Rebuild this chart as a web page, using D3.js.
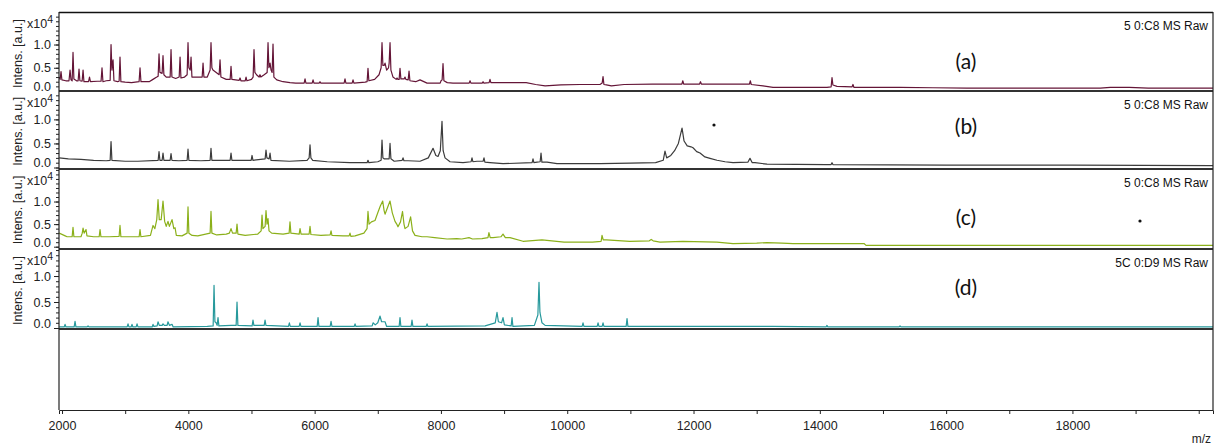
<!DOCTYPE html>
<html>
<head>
<meta charset="utf-8">
<script src="https://d3js.org/d3.v7.min.js"></script>
<style>
    html, body { margin: 0; padding: 0; background: #fff; }
    svg { display: block; font-family: "Liberation Sans", Arial, sans-serif; }
</style>
</head>
<body>
<div id="chart"></div>
<script>
(function () {
    'use strict';

    // x axis ticks (m/z)
    var xTicksMajor = [2000, 4000, 6000, 8000, 10000, 12000, 14000, 16000, 18000];
    var xTicksMinor = [3000, 5000, 7000, 9000, 11000, 13000, 15000, 17000, 19000, 20000];
    var yTicksMajor = [0, 0.5, 1.0];

    var panelTitles = ['5 0:C8 MS Raw', '5 0:C8 MS Raw', '5 0:C8 MS Raw', '5C 0:D9 MS Raw'];
    var panelTags = ['(a)', '(b)', '(c)', '(d)'];

    // spectra: [m/z, intensity x10^4]
    var spectrumA = [
        [1955, 0.30], [1970, 0.25], [1984, 0.42], [1998, 0.24], [2060, 0.22], [2110, 0.22], [2127, 0.45], [2142, 0.24],
        [2160, 0.22], [2174, 0.83], [2188, 0.26], [2230, 0.22], [2255, 0.22], [2269, 0.47], [2283, 0.22], [2318, 0.21],
        [2333, 0.45], [2347, 0.20], [2420, 0.20], [2435, 0.30], [2450, 0.20], [2560, 0.21], [2618, 0.21], [2633, 0.50],
        [2648, 0.20], [2700, 0.22], [2762, 0.23], [2776, 1.00], [2790, 0.45], [2800, 0.60], [2808, 0.67], [2822, 0.22],
        [2880, 0.20], [2904, 0.21], [2918, 0.73], [2932, 0.20], [3000, 0.19], [3100, 0.18], [3220, 0.20], [3235, 0.50],
        [3250, 0.20], [3380, 0.20], [3440, 0.25], [3500, 0.30], [3522, 0.32], [3536, 0.80], [3550, 0.40], [3585, 0.38],
        [3599, 0.76], [3613, 0.35], [3650, 0.30], [3712, 0.30], [3726, 0.89], [3740, 0.30], [3800, 0.27], [3855, 0.30],
        [3869, 0.73], [3883, 0.28], [3940, 0.30], [3981, 0.35], [3995, 1.04], [4008, 0.50], [4030, 0.45], [4043, 0.73],
        [4057, 0.30], [4150, 0.30], [4219, 0.30], [4233, 0.60], [4247, 0.30], [4300, 0.30], [4345, 0.45], [4359, 1.04],
        [4373, 0.50], [4390, 0.45], [4488, 0.35], [4502, 0.67], [4516, 0.30], [4600, 0.25], [4662, 0.25], [4676, 0.53],
        [4690, 0.25], [4805, 0.23], [4819, 0.28], [4833, 0.22], [4900, 0.22], [4914, 0.30], [4928, 0.22], [5000, 0.25],
        [5026, 0.30], [5040, 0.89], [5054, 0.40], [5080, 0.35], [5121, 0.30], [5135, 0.35], [5149, 0.30], [5200, 0.35],
        [5248, 0.40], [5262, 1.04], [5276, 0.50], [5294, 0.60], [5310, 0.45], [5327, 0.40], [5341, 1.01], [5355, 0.30],
        [5400, 0.24], [5500, 0.20], [5610, 0.18], [5700, 0.17], [5834, 0.17], [5848, 0.26], [5862, 0.17], [5961, 0.17],
        [5975, 0.24], [5989, 0.17], [6071, 0.17], [6085, 0.20], [6099, 0.17], [6300, 0.17], [6467, 0.17], [6481, 0.26],
        [6495, 0.17], [6594, 0.17], [6608, 0.24], [6622, 0.17], [6800, 0.19], [6831, 0.20], [6845, 0.49], [6859, 0.22],
        [6950, 0.25], [7020, 0.35], [7053, 0.50], [7067, 1.04], [7081, 0.55], [7100, 0.55], [7115, 0.60], [7140, 0.45],
        [7170, 0.50], [7180, 0.60], [7194, 1.04], [7208, 0.45], [7241, 0.30], [7291, 0.25], [7305, 0.28], [7319, 0.25],
        [7338, 0.25], [7352, 0.49], [7366, 0.26], [7417, 0.26], [7431, 0.30], [7445, 0.25], [7481, 0.24], [7495, 0.43],
        [7509, 0.22], [7600, 0.20], [7669, 0.24], [7780, 0.17], [7900, 0.17], [7988, 0.17], [8002, 0.22], [8019, 0.24],
        [8033, 0.59], [8047, 0.22], [8100, 0.18], [8191, 0.17], [8447, 0.17], [8461, 0.22], [8475, 0.17], [8653, 0.17],
        [8667, 0.20], [8681, 0.17], [8763, 0.18], [8777, 0.25], [8791, 0.18], [8900, 0.18], [9100, 0.18], [9350, 0.18],
        [9500, 0.14], [9650, 0.11], [9900, 0.13], [10200, 0.14], [10519, 0.14], [10553, 0.17], [10567, 0.31], [10581, 0.14],
        [10620, 0.13], [10700, 0.11], [10900, 0.14], [11350, 0.15], [11816, 0.15], [11830, 0.22], [11844, 0.15], [12096, 0.15],
        [12110, 0.20], [12124, 0.15], [12886, 0.15], [12900, 0.22], [12914, 0.14], [13100, 0.11], [13259, 0.08], [14113, 0.08],
        [14179, 0.09], [14193, 0.29], [14207, 0.13], [14272, 0.10], [14511, 0.09], [14525, 0.14], [14539, 0.08], [14636, 0.08],
        [15270, 0.08], [15790, 0.07], [16330, 0.06], [18440, 0.06], [18600, 0.08], [18900, 0.08], [19200, 0.06], [20226, 0.06]
    ];
    var spectrumB = [
        [1955, 0.20], [2100, 0.18], [2300, 0.17], [2500, 0.15], [2700, 0.14], [2762, 0.15], [2776, 0.54], [2790, 0.15],
        [3000, 0.13], [3200, 0.13], [3522, 0.15], [3536, 0.33], [3550, 0.15], [3585, 0.15], [3599, 0.30], [3613, 0.15],
        [3712, 0.15], [3726, 0.29], [3740, 0.15], [3850, 0.14], [3981, 0.15], [3995, 0.38], [4009, 0.15], [4200, 0.14],
        [4345, 0.15], [4359, 0.40], [4373, 0.15], [4662, 0.15], [4676, 0.30], [4690, 0.15], [4995, 0.15], [5009, 0.25],
        [5023, 0.15], [5216, 0.18], [5230, 0.36], [5244, 0.20], [5280, 0.18], [5294, 0.30], [5308, 0.15], [5600, 0.13],
        [5880, 0.15], [5913, 0.20], [5927, 0.47], [5941, 0.20], [5970, 0.15], [6200, 0.12], [6560, 0.10], [6831, 0.10],
        [6845, 0.15], [6859, 0.10], [7000, 0.12], [7053, 0.15], [7067, 0.57], [7081, 0.20], [7100, 0.18], [7180, 0.18],
        [7194, 0.50], [7208, 0.18], [7260, 0.13], [7386, 0.15], [7400, 0.20], [7414, 0.14], [7480, 0.14], [7669, 0.13],
        [7800, 0.20], [7875, 0.40], [7920, 0.25], [7954, 0.23], [7990, 0.35], [8017, 0.96], [8035, 0.35], [8065, 0.20],
        [8144, 0.12], [8350, 0.10], [8478, 0.12], [8492, 0.20], [8506, 0.12], [8572, 0.13], [8668, 0.13], [8682, 0.20],
        [8696, 0.11], [8777, 0.10], [8983, 0.08], [9444, 0.10], [9458, 0.18], [9472, 0.10], [9522, 0.11], [9571, 0.12],
        [9585, 0.30], [9599, 0.11], [9680, 0.11], [9838, 0.08], [10250, 0.08], [10519, 0.08], [11000, 0.09], [11400, 0.10],
        [11520, 0.15], [11548, 0.34], [11575, 0.20], [11640, 0.25], [11700, 0.35], [11760, 0.50], [11818, 0.82], [11850, 0.55],
        [11900, 0.45], [11960, 0.43], [11992, 0.41], [12050, 0.33], [12103, 0.30], [12180, 0.22], [12261, 0.19], [12372, 0.15],
        [12500, 0.12], [12625, 0.10], [12860, 0.11], [12894, 0.19], [12930, 0.10], [12974, 0.10], [13164, 0.07], [14100, 0.06],
        [14179, 0.06], [14193, 0.10], [14207, 0.06], [16000, 0.05], [18000, 0.05], [20226, 0.04]
    ];
    var spectrumC = [
        [1955, 0.30], [2050, 0.24], [2080, 0.22], [2160, 0.22], [2174, 0.43], [2188, 0.22], [2300, 0.22], [2320, 0.30],
        [2333, 0.41], [2350, 0.30], [2380, 0.38], [2395, 0.24], [2500, 0.22], [2588, 0.22], [2602, 0.38], [2616, 0.22],
        [2750, 0.22], [2904, 0.23], [2918, 0.47], [2932, 0.22], [3100, 0.22], [3221, 0.22], [3235, 0.38], [3249, 0.22],
        [3400, 0.25], [3441, 0.47], [3470, 0.40], [3500, 0.60], [3520, 1.04], [3540, 0.60], [3570, 0.60], [3599, 1.01],
        [3625, 0.56], [3650, 0.45], [3678, 0.56], [3700, 0.45], [3742, 0.60], [3770, 0.40], [3790, 0.42], [3810, 0.25],
        [3900, 0.24], [3981, 0.30], [3995, 0.88], [4009, 0.30], [4060, 0.25], [4150, 0.24], [4345, 0.30], [4359, 0.78],
        [4373, 0.30], [4450, 0.26], [4600, 0.28], [4650, 0.30], [4676, 0.40], [4700, 0.30], [4757, 0.30], [4771, 0.50],
        [4785, 0.28], [4900, 0.25], [5100, 0.28], [5153, 0.35], [5167, 0.70], [5181, 0.40], [5216, 0.45], [5230, 0.80],
        [5246, 0.50], [5262, 0.62], [5278, 0.35], [5320, 0.30], [5500, 0.28], [5596, 0.30], [5610, 0.55], [5624, 0.30],
        [5755, 0.28], [5769, 0.40], [5785, 0.28], [5913, 0.28], [5927, 0.45], [5941, 0.27], [6100, 0.25], [6246, 0.26],
        [6260, 0.35], [6274, 0.25], [6450, 0.24], [6546, 0.24], [6560, 0.30], [6574, 0.23], [6640, 0.24], [6780, 0.30],
        [6830, 0.40], [6845, 0.78], [6862, 0.50], [6900, 0.55], [6956, 0.58], [7000, 0.75], [7040, 0.90], [7078, 1.01],
        [7100, 0.80], [7115, 0.72], [7150, 0.85], [7194, 1.01], [7230, 0.75], [7273, 0.56], [7300, 0.50], [7320, 0.44],
        [7360, 0.55], [7392, 0.78], [7415, 0.50], [7431, 0.40], [7480, 0.45], [7520, 0.66], [7550, 0.35], [7590, 0.25],
        [7700, 0.22], [7780, 0.22], [7900, 0.20], [8097, 0.17], [8250, 0.18], [8330, 0.17], [8445, 0.20], [8500, 0.17],
        [8650, 0.18], [8745, 0.20], [8760, 0.31], [8780, 0.20], [8825, 0.20], [8950, 0.22], [8983, 0.28], [9020, 0.20],
        [9094, 0.20], [9300, 0.12], [9600, 0.15], [9950, 0.10], [10400, 0.10], [10537, 0.12], [10551, 0.25], [10570, 0.15],
        [10620, 0.15], [10990, 0.12], [11300, 0.13], [11330, 0.16], [11360, 0.13], [11470, 0.10], [11830, 0.12], [12370, 0.10],
        [12625, 0.07], [13000, 0.08], [13164, 0.09], [13400, 0.08], [13576, 0.07], [14000, 0.07], [14700, 0.07], [14731, 0.03],
        [20226, 0.03]
    ];
    var spectrumD = [
        [1955, 0.02], [2034, 0.02], [2048, 0.07], [2062, 0.02], [2192, 0.02], [2206, 0.13], [2220, 0.02], [2398, 0.02],
        [2412, 0.04], [2426, 0.02], [3031, 0.02], [3045, 0.08], [3059, 0.02], [3094, 0.02], [3108, 0.07], [3122, 0.02],
        [3174, 0.02], [3188, 0.08], [3202, 0.02], [3427, 0.02], [3441, 0.07], [3455, 0.03], [3506, 0.04], [3520, 0.12],
        [3540, 0.05], [3585, 0.05], [3599, 0.08], [3620, 0.05], [3664, 0.05], [3678, 0.12], [3700, 0.05], [3742, 0.07],
        [3760, 0.02], [4300, 0.03], [4393, 0.04], [4407, 0.82], [4421, 0.12], [4440, 0.10], [4456, 0.05], [4470, 0.20],
        [4484, 0.04], [4680, 0.05], [4757, 0.05], [4771, 0.50], [4785, 0.05], [5010, 0.04], [5024, 0.15], [5038, 0.05],
        [5201, 0.05], [5215, 0.15], [5229, 0.05], [5586, 0.03], [5600, 0.10], [5614, 0.03], [5755, 0.03], [5769, 0.10],
        [5783, 0.03], [6040, 0.03], [6054, 0.20], [6068, 0.03], [6246, 0.03], [6260, 0.13], [6274, 0.03], [6626, 0.03],
        [6640, 0.08], [6654, 0.03], [6911, 0.04], [6925, 0.10], [6960, 0.06], [7000, 0.10], [7036, 0.23], [7060, 0.12],
        [7115, 0.12], [7140, 0.03], [7338, 0.03], [7352, 0.20], [7366, 0.03], [7528, 0.03], [7542, 0.15], [7556, 0.03],
        [7766, 0.03], [7780, 0.08], [7794, 0.03], [8700, 0.04], [8860, 0.10], [8888, 0.30], [8910, 0.12], [8960, 0.10],
        [8983, 0.20], [9005, 0.06], [9112, 0.04], [9126, 0.20], [9140, 0.03], [9480, 0.05], [9535, 0.25], [9553, 0.88],
        [9568, 0.30], [9600, 0.10], [9650, 0.05], [10236, 0.03], [10250, 0.10], [10264, 0.03], [10474, 0.03], [10488, 0.10],
        [10502, 0.03], [10553, 0.03], [10567, 0.10], [10581, 0.03], [10933, 0.03], [10947, 0.18], [10961, 0.03], [12103, 0.03],
        [13259, 0.03], [14099, 0.02], [14113, 0.05], [14127, 0.02], [15256, 0.02], [15270, 0.04], [15284, 0.02], [20226, 0.02]
    ];

    var spectra = [spectrumA, spectrumB, spectrumC, spectrumD];
    var colors = ['#641537', '#3c3c3c', '#8bb01a', '#27999c'];

    // layout
    var width = 1219, height = 446;
    var left = 59, right = 1213, axisY = 410;
    var panels = [
        { top: 12, zero: 91, bottom: 91, max: 1.70, tagY: 69 },
        { top: 91, zero: 167.5, bottom: 169, max: 1.59, tagY: 134 },
        { top: 169, zero: 246.7, bottom: 249, max: 1.72, tagY: 225 },
        { top: 249, zero: 328, bottom: 329, max: 1.52, tagY: 295 }
    ];
    var separators = [91, 169, 249, 329];

    var svg = d3.select('#chart').append('svg')
        .attr('width', width)
        .attr('height', height);

    var x = d3.scaleLinear().domain([1952, 20226]).range([left, right]);

    var line = d3.line();

    panels.forEach(function (p, i) {
        var y = d3.scaleLinear().domain([0, p.max]).range([p.zero, p.top]);
        var g = svg.append('g').attr('class', 'panel');

        g.append('clipPath').attr('id', 'clip' + i)
            .append('rect')
            .attr('x', left).attr('y', p.top)
            .attr('width', right - left).attr('height', p.zero - p.top + 2);
        // labels on the left are cut at the panel edges, like the original
        g.append('clipPath').attr('id', 'lclip' + i)
            .append('rect')
            .attr('x', 0).attr('y', p.top)
            .attr('width', left + 1).attr('height', p.bottom - p.top);

        line.x(function (d) { return x(d[0]); })
            .y(function (d) { return y(d[1]); });

        g.append('path')
            .datum(spectra[i])
            .attr('clip-path', 'url(#clip' + i + ')')
            .attr('fill', 'none')
            .attr('stroke', colors[i])
            .attr('stroke-width', 1.2)
            .attr('stroke-linejoin', 'round')
            .attr('d', line);

        var lg = g.append('g').attr('clip-path', 'url(#lclip' + i + ')');

        // minor y ticks
        var minor = lg.append('g')
            .attr('transform', 'translate(' + left + ',0)')
            .call(d3.axisLeft(y).tickValues(d3.range(0, p.max, 0.1)).tickSize(3).tickFormat(''));
        minor.select('.domain').remove();
        minor.selectAll('line').attr('stroke', '#222');

        var major = lg.append('g')
            .attr('transform', 'translate(' + left + ',0)')
            .call(d3.axisLeft(y).tickValues(yTicksMajor).tickSize(5).tickPadding(3).tickFormat(d3.format('.1f')));
        major.select('.domain').remove();
        major.selectAll('line').attr('stroke', '#222');
        major.selectAll('text')
            .attr('font-size', 12.5)
            .attr('font-family', '"Liberation Sans", Arial, sans-serif')
            .attr('fill', '#222');
        // the 0.0 label sits on the panel edge
        major.selectAll('.tick').filter(function (d) { return d === 0; })
            .select('text').attr('dy', '-0.05em');

        // x10^4 multiplier
        var mult = lg.append('text')
            .attr('x', 27).attr('y', p.top + 16)
            .attr('font-size', 12.5)
            .attr('fill', '#222')
            .text('x10');
        mult.append('tspan').attr('dy', -5).attr('font-size', 10.5).text('4');

        lg.append('text')
            .attr('transform', 'translate(22,' + ((p.top + p.zero) / 2 + 2) + ') rotate(-90)')
            .attr('text-anchor', 'middle')
            .attr('font-size', 12.5)
            .attr('fill', '#222')
            .text('Intens. [a.u.]');

        g.append('text')
            .attr('x', 1208).attr('y', p.top + 18)
            .attr('text-anchor', 'end')
            .attr('font-size', 12)
            .attr('fill', '#111')
            .text(panelTitles[i]);

        g.append('text')
            .attr('x', 966).attr('y', p.tagY)
            .attr('text-anchor', 'middle')
            .attr('font-family', 'Lato, "Open Sans", sans-serif')
            .attr('font-size', 21)
            .attr('fill', '#111')
            .text(panelTags[i]);
    });

    // stray dots in (b) and (c)
    svg.append('circle').attr('cx', 714).attr('cy', 125).attr('r', 1.6).attr('fill', '#111');
    svg.append('circle').attr('cx', 1140).attr('cy', 221).attr('r', 1.6).attr('fill', '#111');

    // frame
    svg.append('line')
        .attr('x1', left).attr('x2', right).attr('y1', 12.5).attr('y2', 12.5)
        .attr('stroke', '#111').attr('stroke-width', 1.3);
    separators.forEach(function (s) {
        svg.append('line')
            .attr('x1', left).attr('x2', right).attr('y1', s).attr('y2', s)
            .attr('stroke', '#333').attr('stroke-width', 2);
    });
    svg.append('line')
        .attr('x1', left).attr('x2', left).attr('y1', 12).attr('y2', axisY)
        .attr('stroke', '#222').attr('stroke-width', 1.2);
    svg.append('line')
        .attr('x1', right).attr('x2', right).attr('y1', 12).attr('y2', axisY)
        .attr('stroke', '#222').attr('stroke-width', 1.2);

    // x axis
    var xAxis = svg.append('g')
        .attr('transform', 'translate(0,' + axisY + ')')
        .call(d3.axisBottom(x).tickValues(xTicksMajor).tickSize(4).tickPadding(7).tickFormat(d3.format('d')));
    xAxis.select('.domain').attr('stroke', '#222');
    xAxis.selectAll('line').attr('stroke', '#222');
    xAxis.selectAll('text')
        .attr('font-size', 12.5)
        .attr('font-family', '"Liberation Sans", Arial, sans-serif')
        .attr('fill', '#222');
    var xMinor = svg.append('g')
        .attr('transform', 'translate(0,' + axisY + ')')
        .call(d3.axisBottom(x).tickValues(xTicksMinor).tickSize(4).tickFormat(''));
    xMinor.select('.domain').remove();
    xMinor.selectAll('line').attr('stroke', '#222');

    svg.append('text')
        .attr('x', 1211).attr('y', 443)
        .attr('text-anchor', 'end')
        .attr('font-size', 12)
        .attr('fill', '#222')
        .text('m/z');
}());
</script>
</body>
</html>
